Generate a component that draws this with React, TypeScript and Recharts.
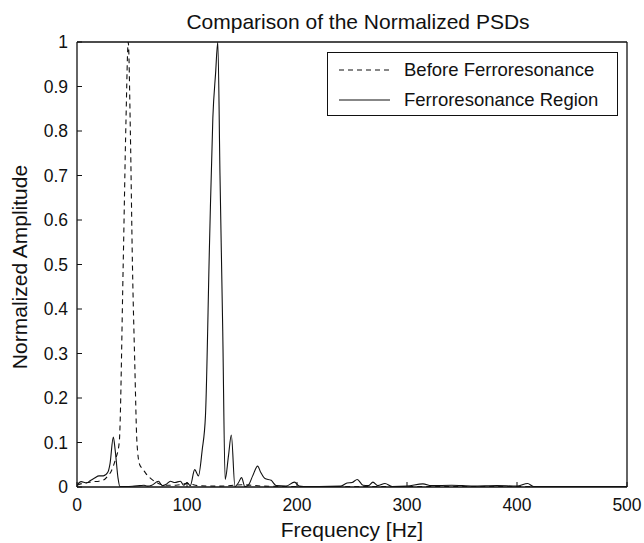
import React from 'react';
import { LineChart, Line, XAxis, YAxis, Legend } from 'recharts';

const FONT = '"Liberation Sans", Arial, Helvetica, sans-serif';

const title = 'Comparison of the Normalized PSDs';
const xLabel = 'Frequency [Hz]';
const yLabel = 'Normalized Amplitude';
const seriesNames = ['Before Ferroresonance', 'Ferroresonance Region'];

const xTicks = [0, 100, 200, 300, 400, 500];
const yTicks = [0, 0.1, 0.2, 0.3, 0.4, 0.5, 0.6, 0.7, 0.8, 0.9, 1];

// Before Ferroresonance (dashed)
const beforeFreq = [
  0, 5, 10, 15, 20, 25, 28, 31, 34.7, 38.4,
  42, 44.5, 46.6, 48.5, 50.4, 52.5, 54.5, 57, 60, 62.7,
  68, 74, 80, 90, 100, 110, 130, 150, 170, 200,
  300, 400, 500,
];
const beforeAmp = [
  0.004, 0.008, 0.01, 0.012, 0.013, 0.017, 0.025, 0.035, 0.06, 0.1,
  0.5, 0.82, 1.0, 0.8, 0.5, 0.28, 0.1, 0.05, 0.04, 0.03,
  0.017, 0.008, 0.004, 0.004, 0.008, 0.003, 0.002, 0.005, 0.002, 0.001,
  0.001, 0.001, 0.001,
];

// Ferroresonance Region (solid)
const regionFreq = [
  0, 3.7, 8.6, 12, 16, 20, 24, 28, 30, 33,
  34.7, 37.3, 39, 45, 52, 57, 61, 64, 68, 74,
  77.6, 81, 85, 89, 94, 97, 100, 103, 107, 110.4,
  113.8, 116.8, 120.5, 123.5, 126, 128, 130, 132.5, 134.7, 137.7,
  140.3, 143.6, 146.6, 149.6, 152.6, 156, 159.7, 164.2, 167, 170.9,
  176.5, 181, 190, 197.7, 202, 206, 220, 240, 245.5, 250,
  254.8, 260, 265, 269, 273.5, 280, 286.5, 300, 314.5, 322,
  340.6, 360, 381.7, 400, 409.7, 415, 450, 500,
];
const regionAmp = [
  0.004, 0.012, 0.009, 0.014, 0.02, 0.025, 0.025, 0.033, 0.052, 0.112,
  0.083, 0.02, 0.001, 0.001, 0.002, 0.003, 0.004, 0.002, 0.004, 0.013,
  0.003, 0.006, 0.013, 0.01, 0.013, 0.004, 0.01, 0.003, 0.039, 0.025,
  0.083, 0.161, 0.55, 0.83, 0.93, 1.0, 0.7, 0.35, 0.017, 0.07,
  0.117, 0.001, 0.009, 0.021, 0.001, 0.005, 0.025, 0.047, 0.033, 0.019,
  0.015, 0.003, 0.002, 0.011, 0.002, 0.001, 0.001, 0.002, 0.009, 0.01,
  0.017, 0.004, 0.003, 0.011, 0.003, 0.008, 0.001, 0.002, 0.007, 0.003,
  0.004, 0.002, 0.003, 0.002, 0.008, 0.001, 0.001, 0.001,
];

const beforeData = beforeFreq.map((f, i) => ({ freq: f, amp: beforeAmp[i] }));
const regionData = regionFreq.map((f, i) => ({ freq: f, amp: regionAmp[i] }));

const INK = '#111';
const DASH = '5 4';
const TICK_FS = 17.5;
const LABEL_FS = 21;

const LegendBox = () => (
  <div
    style={{
      position: 'relative',
      width: 291,
      height: 64,
      boxSizing: 'border-box',
      border: `1.3px solid ${INK}`,
      background: '#fff',
      fontFamily: FONT,
      fontSize: 18.5,
      color: INK,
    }}
  >
    {seriesNames.map((name, i) => (
      <div
        key={name}
        style={{
          position: 'absolute',
          left: 0,
          top: i === 0 ? 2 : 32,
          height: 30,
          width: '100%',
          display: 'flex',
          alignItems: 'center',
        }}
      >
        <svg width={51} height={10} style={{ position: 'absolute', left: 11 }}>
          <line
            x1={0}
            y1={5}
            x2={51}
            y2={5}
            stroke={INK}
            strokeWidth={1.1}
            strokeDasharray={i === 0 ? DASH : undefined}
          />
        </svg>
        <span style={{ position: 'absolute', left: 76, whiteSpace: 'nowrap', lineHeight: '30px' }}>{name}</span>
      </div>
    ))}
  </div>
);

export default function App() {
  return (
    <div style={{ position: 'absolute', left: 0, top: 0, width: 644, height: 543, background: '#fff' }}>
      <LineChart
        width={644}
        height={543}
        margin={{ top: 41, right: 16, bottom: 0, left: 0 }}
        style={{ fontFamily: FONT }}
      >
        <XAxis
          xAxisId="b"
          dataKey="freq"
          type="number"
          domain={[0, 500]}
          ticks={xTicks}
          orientation="bottom"
          height={56}
          tickSize={-5}
          tickMargin={17}
          axisLine={{ stroke: INK, strokeWidth: 1.3 }}
          tickLine={{ stroke: INK, strokeWidth: 1 }}
          tick={{ fill: INK, fontSize: TICK_FS, fontFamily: FONT }}
          allowDataOverflow
        />
        <XAxis
          xAxisId="t"
          dataKey="freq"
          type="number"
          domain={[0, 500]}
          ticks={xTicks}
          orientation="top"
          height={1}
          tickSize={-5}
          tick={false}
          axisLine={{ stroke: INK, strokeWidth: 1.3 }}
          tickLine={{ stroke: INK, strokeWidth: 1 }}
          allowDataOverflow
        />
        <YAxis
          yAxisId="l"
          type="number"
          domain={[0, 1]}
          ticks={yTicks}
          orientation="left"
          width={77}
          tickSize={-5}
          tickMargin={14}
          axisLine={{ stroke: INK, strokeWidth: 1.3 }}
          tickLine={{ stroke: INK, strokeWidth: 1 }}
          tick={{ fill: INK, fontSize: TICK_FS, fontFamily: FONT }}
          allowDataOverflow
        />
        <YAxis
          yAxisId="r"
          type="number"
          domain={[0, 1]}
          ticks={yTicks}
          orientation="right"
          width={1}
          tickSize={-5}
          tick={false}
          axisLine={{ stroke: INK, strokeWidth: 1.3 }}
          tickLine={{ stroke: INK, strokeWidth: 1 }}
          allowDataOverflow
        />
        <Line
          xAxisId="b"
          yAxisId="l"
          data={beforeData}
          dataKey="amp"
          name={seriesNames[0]}
          type="monotone"
          stroke={INK}
          strokeWidth={1.1}
          strokeDasharray={DASH}
          dot={false}
          activeDot={false}
          isAnimationActive={false}
        />
        <Line
          xAxisId="b"
          yAxisId="l"
          data={regionData}
          dataKey="amp"
          name={seriesNames[1]}
          type="monotone"
          stroke={INK}
          strokeWidth={1.1}
          dot={false}
          activeDot={false}
          isAnimationActive={false}
        />
        <Legend
          layout="horizontal"
          verticalAlign="middle"
          align="center"
          wrapperStyle={{ left: 327, top: 52, width: 291, height: 64, margin: 0, padding: 0 }}
          content={() => <LegendBox />}
        />
        <text x={358} y={28.5} textAnchor="middle" fontSize={LABEL_FS} fontFamily={FONT} fill={INK}>
          {title}
        </text>
        <text x={352} y={537} textAnchor="middle" fontSize={LABEL_FS} fontFamily={FONT} fill={INK}>
          {xLabel}
        </text>
        <text
          transform="rotate(-90)"
          x={-267}
          y={27}
          textAnchor="middle"
          fontSize={LABEL_FS}
          fontFamily={FONT}
          fill={INK}
        >
          {yLabel}
        </text>
      </LineChart>
    </div>
  );
}
